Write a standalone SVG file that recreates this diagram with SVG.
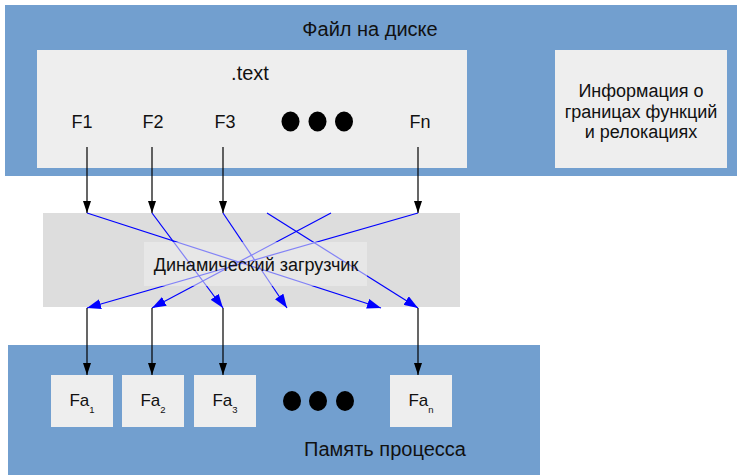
<svg xmlns="http://www.w3.org/2000/svg" width="737" height="475" viewBox="0 0 737 475">
<defs>
<style>
.blue{fill:#729fcf}
.light{fill:#eeeeee}
.gray{fill:#dddddd}
text{font-family:"Liberation Sans",Arial,sans-serif;font-size:18px;fill:#111111;text-anchor:middle}
.big{font-size:20px}
.fa{font-size:17px}
.sub{font-size:9.5px}
.blk{stroke:#000000;stroke-width:1.2;fill:none;marker-end:url(#ab)}
.bl{stroke:#0000ff;stroke-width:1.2;fill:none;marker-end:url(#au)}
</style>
<marker id="ab" viewBox="0 0 12 8" refX="12" refY="4" markerWidth="12" markerHeight="8" markerUnits="userSpaceOnUse" orient="auto">
<path d="M0,0 L12,4 L0,8 Z" fill="#000000"/>
</marker>
<marker id="au" viewBox="0 0 14 10" refX="14" refY="5" markerWidth="14" markerHeight="10" markerUnits="userSpaceOnUse" orient="auto">
<path d="M0,0 L14,5 L0,10 Z" fill="#0000ff"/>
</marker>
</defs>
<g id="file">
<rect class="blue" x="5" y="5" width="732" height="171"/>
<text class="big" x="370" y="36">Файл на диске</text>
</g>
<g id="text-section">
<rect class="light" x="37" y="50" width="430" height="118"/>
<text class="big" x="250" y="80">.text</text>
<text x="82" y="128">F1</text>
<text x="153" y="128">F2</text>
<text x="225" y="128">F3</text>
<ellipse cx="290.5" cy="121.5" rx="9" ry="10"/>
<ellipse cx="317.5" cy="121.5" rx="9" ry="10"/>
<ellipse cx="344" cy="121.5" rx="9" ry="10"/>
<text x="420" y="128">Fn</text>
</g>
<g id="info">
<rect class="light" x="555" y="50" width="172" height="118"/>
<text x="641" y="97">Информация о</text>
<text x="641" y="118">границах функций</text>
<text x="641" y="138">и релокациях</text>
</g>
<g id="loader">
<rect class="gray" x="43" y="213" width="417" height="94"/>
</g>
<g id="memory">
<rect class="blue" x="8" y="345" width="532" height="130"/>
<text class="big" x="385" y="456">Память процесса</text>
</g>
<g id="fa1">
<rect class="light" x="51" y="375" width="62" height="52"/>
<text class="fa" x="82" y="406">Fa<tspan class="sub" dy="7">1</tspan></text>
</g>
<g id="fa2">
<rect class="light" x="122" y="375" width="62" height="52"/>
<text class="fa" x="153" y="406">Fa<tspan class="sub" dy="7">2</tspan></text>
</g>
<g id="fa3">
<rect class="light" x="194" y="375" width="62" height="52"/>
<text class="fa" x="225" y="406">Fa<tspan class="sub" dy="7">3</tspan></text>
</g>
<g id="dots">
<ellipse cx="292" cy="401" rx="9" ry="10"/>
<ellipse cx="318" cy="401" rx="9" ry="10"/>
<ellipse cx="345" cy="401" rx="9" ry="10"/>
</g>
<g id="fan">
<rect class="light" x="390" y="375" width="62" height="52"/>
<text class="fa" x="421" y="406">Fa<tspan class="sub" dy="7">n</tspan></text>
</g>
<g id="connectors">
<line class="blk" x1="87" y1="147" x2="87" y2="213"/>
<line class="blk" x1="152" y1="147" x2="152" y2="213"/>
<line class="blk" x1="223" y1="147" x2="223" y2="213"/>
<line class="blk" x1="418" y1="147" x2="418" y2="213"/>
<line class="bl" x1="87" y1="213" x2="381" y2="308"/>
<line class="bl" x1="152" y1="213" x2="223" y2="308"/>
<line class="bl" x1="223" y1="213" x2="287" y2="308"/>
<line class="bl" x1="267" y1="213" x2="418" y2="308"/>
<line class="bl" x1="331" y1="213" x2="152" y2="308"/>
<line class="bl" x1="418" y1="213" x2="87" y2="308"/>
<line class="blk" x1="87" y1="308" x2="87" y2="375"/>
<line class="blk" x1="152" y1="308" x2="152" y2="375"/>
<line class="blk" x1="223" y1="308" x2="223" y2="375"/>
<line class="blk" x1="418" y1="308" x2="418" y2="375"/>
</g>
<g id="loader-label">
<rect class="light" x="144" y="242" width="223" height="44" opacity="0.55"/>
<text x="256" y="271">Динамический загрузчик</text>
</g>
</svg>
